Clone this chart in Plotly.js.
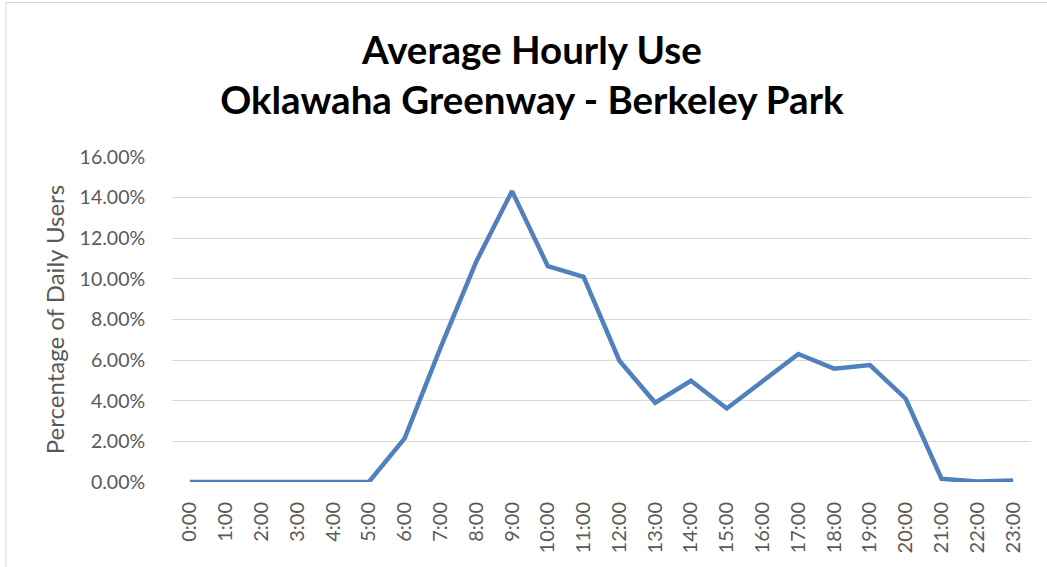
<!DOCTYPE html>
<html>
<head>
<meta charset="utf-8">
<script src="https://cdn.plot.ly/plotly-3.0.1.min.js"></script>
<style>
  html, body { margin: 0; padding: 0; background: #fff; }
  #chart { width: 1047px; height: 567px; }
</style>
</head>
<body>
<div id="chart"></div>
<script>
// Data
const hours = ["0:00","1:00","2:00","3:00","4:00","5:00","6:00","7:00","8:00","9:00","10:00","11:00",
               "12:00","13:00","14:00","15:00","16:00","17:00","18:00","19:00","20:00","21:00","22:00","23:00"];
const pctUsers = [0, 0, 0, 0, 0, 0, 2.15, 6.6, 10.85, 14.32, 10.63, 10.1,
                  5.97, 3.9, 4.98, 3.62, 4.96, 6.3, 5.58, 5.76, 4.1, 0.16, 0.03, 0.08];
const yTicks = [0, 2, 4, 6, 8, 10, 12, 14, 16];
const yTickLabels = ["0.00%", "2.00%", "4.00%", "6.00%", "8.00%", "10.00%", "12.00%", "14.00%", "16.00%"];
const chartTitle = "Average Hourly Use<br>Oklawaha Greenway - Berkeley Park";
const yTitle = "Percentage of Daily Users";

const trace = {
  x: hours,
  y: pctUsers,
  type: "scatter",
  mode: "lines",
  line: { color: "#4F81BD", width: 4.5 },
  hoverinfo: "x+y"
};

const layout = {
  width: 1047,
  height: 567,
  margin: { l: 172, r: 16, t: 157, b: 85 },
  paper_bgcolor: "#ffffff",
  plot_bgcolor: "#ffffff",
  font: { family: "Lato, 'Open Sans', sans-serif", color: "#595959" },
  showlegend: false,
  title: {
    text: chartTitle,
    font: { family: "Lato, 'Open Sans', sans-serif", size: 38.5, color: "#000000", weight: "bold" },
    xref: "container",
    x: 0.508,
    xanchor: "center",
    yref: "container",
    y: 0.888,
    yanchor: "middle"
  },
  xaxis: {
    type: "category",
    range: [-0.5, 23.5],
    tickangle: -90,
    showgrid: false,
    zeroline: false,
    showline: false,
    ticks: "outside",
    ticklen: 11,
    tickcolor: "rgba(0,0,0,0)",
    tickfont: { size: 20, color: "#595959" },
    fixedrange: true
  },
  yaxis: {
    range: [0, 16],
    tickvals: yTicks,
    ticktext: yTickLabels,
    showgrid: true,
    gridcolor: "#D9D9D9",
    gridwidth: 1,
    zeroline: false,
    showline: false,
    ticks: "outside",
    ticklen: 22,
    tickcolor: "rgba(0,0,0,0)",
    tickfont: { size: 19.5, color: "#595959" },
    title: { text: yTitle, font: { size: 24, color: "#595959" }, standoff: 8 },
    fixedrange: true
  },
  shapes: [
    {
      type: "rect",
      xref: "paper", yref: "paper",
      x0: (6 - 172) / 859, x1: 1.2,
      y0: -0.6, y1: 1 + (157 - 2.5) / 325,
      line: { color: "#D9D9D9", width: 1 },
      fillcolor: "rgba(0,0,0,0)",
      layer: "below"
    }
  ]
};

Plotly.newPlot("chart", [trace], layout, { displayModeBar: false });
</script>
</body>
</html>
